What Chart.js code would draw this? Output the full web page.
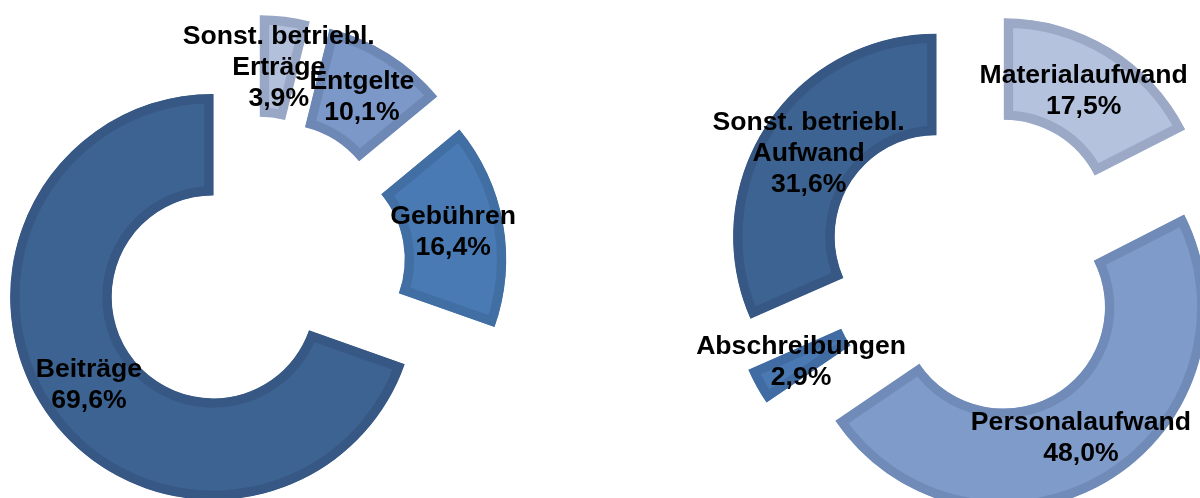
<!DOCTYPE html>
<html>
<head>
<meta charset="UTF-8" />
<script src="https://cdn.jsdelivr.net/npm/chart.js"></script>
<style>
  body { margin: 0; background: #fff; overflow: hidden; }
  .wrap { position: relative; width: 1200px; height: 498px; }
  canvas { position: absolute; left: 0; top: 0; }
</style>
</head>
<body>
<div class="wrap">
  <canvas id="left" width="1200" height="498"></canvas>
  <canvas id="right" width="1200" height="498"></canvas>
</div>
<script>
// Ertraege (links)
const incomeLabels = ['Sonst. betriebl.\nErträge', 'Entgelte', 'Gebühren', 'Beiträge'];
const incomeValues = [3.9, 10.1, 16.4, 69.6];
const incomeColors = ['#b3c0dc', '#7b98c8', '#4a7ab4', '#3c6391'];
const incomeBorders = ['#98a7c5', '#6d88b5', '#416ea3', '#375884'];

// Aufwand (rechts)
const costLabels = ['Materialaufwand', 'Personalaufwand', 'Abschreibungen', 'Sonst. betriebl.\nAufwand'];
const costValues = [17.5, 48.0, 2.9, 31.6];
const costColors = ['#b4c2de', '#7f9bca', '#4a78b2', '#3c6391'];
const costBorders = ['#9ba9c7', '#718bb8', '#416ca3', '#375884'];

const EXPLODE = 50;

// Segmente gleichmaessig nach aussen verschieben (wie Excel "explodiert")
const explodePlugin = {
  id: 'explode',
  afterDatasetsUpdate(chart) {
    chart.getDatasetMeta(0).data.forEach(arc => {
      const mid = (arc.startAngle + arc.endAngle) / 2;
      arc.x += Math.cos(mid) * EXPLODE;
      arc.y += Math.sin(mid) * EXPLODE;
    });
  },
};

// Beschriftungen in der Mitte jedes Segments
const labelPlugin = {
  id: 'sliceLabels',
  afterDatasetsDraw(chart) {
    const ctx = chart.ctx;
    const labels = chart.data.labels;
    const values = chart.data.datasets[0].data;
    ctx.save();
    ctx.font = 'bold 26.6px "Liberation Sans", Arial, sans-serif';
    ctx.fillStyle = '#000';
    ctx.textAlign = 'center';
    ctx.textBaseline = 'middle';
    chart.getDatasetMeta(0).data.forEach((arc, i) => {
      const p = arc.getCenterPoint();
      const lines = labels[i].split('\n');
      lines.push(values[i].toFixed(1).replace('.', ',') + '%');
      const lh = 31;
      lines.forEach((t, j) => {
        ctx.fillText(t, p.x, p.y + (j - (lines.length - 1) / 2) * lh);
      });
    });
    ctx.restore();
  },
};

function makeChart(id, labels, values, colors, borders, padding) {
  return new Chart(document.getElementById(id), {
    type: 'doughnut',
    data: {
      labels,
      datasets: [{
        data: values,
        backgroundColor: colors,
        borderColor: borders,
        borderWidth: 9,
        borderAlign: 'inner',
        borderJoinStyle: 'miter',
        clip: false,
      }],
    },
    options: {
      responsive: false,
      animation: false,
      events: [],
      radius: 203,
      cutout: '50%',
      layout: { padding },
      plugins: {
        legend: { display: false },
        tooltip: { enabled: false },
      },
    },
    plugins: [explodePlugin, labelPlugin],
  });
}

makeChart('left', incomeLabels, incomeValues, incomeColors, incomeBorders,
  { left: 0, right: 692, top: 38, bottom: 0 });
makeChart('right', costLabels, costValues, costColors, costBorders,
  { left: 756, right: 0, top: 30, bottom: 0 });
</script>
</body>
</html>
